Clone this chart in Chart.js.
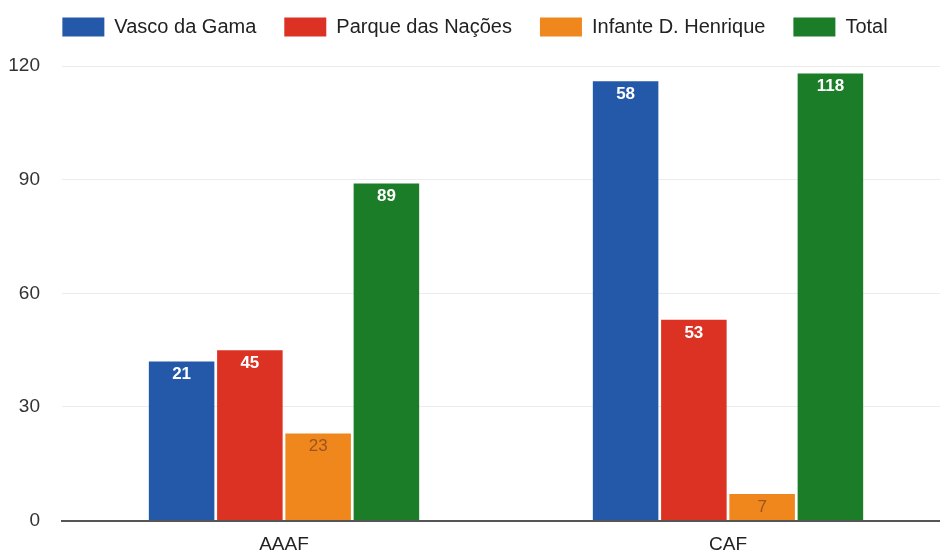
<!DOCTYPE html>
<html>
<head>
<meta charset="utf-8">
<script src="https://cdn.jsdelivr.net/npm/chart.js@4/dist/chart.umd.min.js"></script>
<style>
  html, body { margin: 0; padding: 0; background: #fff; overflow: hidden; }
  #wrap { width: 950px; height: 554px; position: relative; }
</style>
</head>
<body>
<div id="wrap"><canvas id="chart"></canvas></div>
<script>
const categories = ["AAAF", "CAF"];
const seriesNames = ["Vasco da Gama", "Parque das Nações", "Infante D. Henrique", "Total"];

// bar heights as drawn
const vascoValues = [42, 116];
const parqueValues = [45, 53];
const infanteValues = [23, 7];
const totalValues = [89, 118];

// numbers printed on the bars
const vascoLabels = [21, 58];
const parqueLabels = [45, 53];
const infanteLabels = [23, 7];
const totalLabels = [89, 118];

const yTicks = [0, 30, 60, 90, 120];

const colors = ["#2459a9", "#dc3224", "#f0871d", "#1b7d27"];
const labelColors = ["#ffffff", "#ffffff", "#9a5520", "#ffffff"];

const allValues = [vascoValues, parqueValues, infanteValues, totalValues];
const allLabels = [vascoLabels, parqueLabels, infanteLabels, totalLabels];

const FONT = "'Liberation Sans', Arial, sans-serif";

const barLabels = {
  id: "barLabels",
  afterDatasetsDraw(chart) {
    const ctx = chart.ctx;
    ctx.save();
    ctx.textAlign = "center";
    ctx.textBaseline = "middle";
    chart.data.datasets.forEach((ds, i) => {
      const meta = chart.getDatasetMeta(i);
      meta.data.forEach((bar, j) => {
        ctx.fillStyle = labelColors[i];
        ctx.font = (i === 2 ? "" : "bold ") + "17px " + FONT;
        ctx.fillText(String(allLabels[i][j]), bar.x, bar.y + 13);
      });
    });
    ctx.restore();
  }
};

const legendSpot = {
  id: "legendSpot",
  beforeInit(chart) {
    const fit = chart.legend.fit;
    chart.legend.fit = function () {
      fit.bind(chart.legend)();
      this.height = 66;
    };
  },
  afterLayout(chart) {
    chart.legend.top = -11;
  }
};

new Chart(document.getElementById("chart"), {
  type: "bar",
  data: {
    labels: categories,
    datasets: seriesNames.map((name, i) => ({
      label: name,
      data: allValues[i],
      backgroundColor: colors[i],
      borderWidth: 0,
      barPercentage: 0.96,
      categoryPercentage: 0.615
    }))
  },
  options: {
    responsive: true,
    maintainAspectRatio: false,
    animation: false,
    plugins: {
      legend: {
        position: "top",
        align: "center",
        labels: {
          boxWidth: 42,
          boxHeight: 19,
          padding: 28,
          color: "#222",
          font: { family: FONT, size: 20 }
        }
      },
      tooltip: { enabled: false }
    },
    scales: {
      x: {
        grid: { display: false, drawTicks: false },
        border: { color: "#555", width: 2 },
        ticks: {
          color: "#222",
          padding: 13,
          font: { family: FONT, size: 19 }
        },
        afterFit(scale) { scale.height = 30; }
      },
      y: {
        min: 0,
        max: 120,
        afterBuildTicks(scale) { scale.ticks = yTicks.map(v => ({ value: v })); },
        grid: { color: "#ececec", drawTicks: false },
        border: { display: false },
        ticks: {
          color: "#333",
          padding: 22,
          font: { family: FONT, size: 19 }
        },
        afterFit(scale) { scale.width = 62; }
      }
    }
  },
  plugins: [barLabels, legendSpot]
});
</script>
</body>
</html>
